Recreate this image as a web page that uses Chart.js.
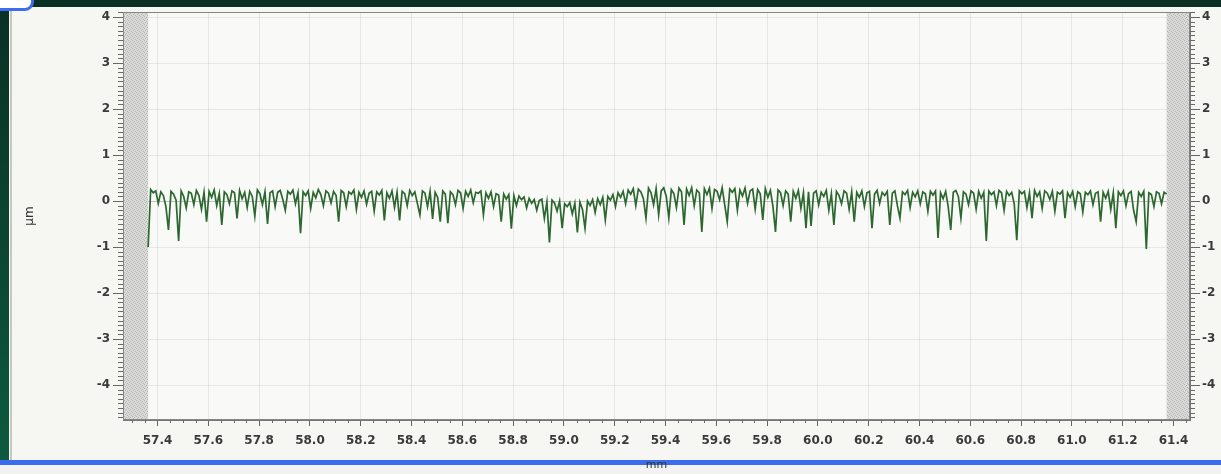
<!DOCTYPE html>
<html>
<head>
<meta charset="utf-8">
<title>Profile</title>
<script src="https://cdn.jsdelivr.net/npm/chart.js@4.4.0/dist/chart.umd.min.js"></script>
<style>
  html, body { margin: 0; padding: 0; }
  body { width: 1221px; height: 474px; overflow: hidden; position: relative; background: #f6f6f3; }
  #frameTop { position: absolute; left: 0; top: 0; width: 1221px; height: 7px; background: #0a2f24; }
  #frameLeft { position: absolute; left: 0; top: 0; width: 9px; height: 462px; background: linear-gradient(#0a2f24, #0d5a3f); }
  #edge { position: absolute; left: 10px; top: 7px; width: 2px; height: 455px; background: #c6c6c2; }
  #corner { position: absolute; left: -24px; top: -20px; width: 52px; height: 25px; border: 3px solid #3b6df0; border-radius: 9px; background: #fff; }
  #blueLine { position: absolute; left: 0; top: 460px; width: 1221px; height: 5px; background: #3a6cf0; }
  #bottomStrip { position: absolute; left: 0; top: 465px; width: 1221px; height: 9px; background: #f2f2f2; }
  #wrap { position: absolute; left: 0; top: 0; width: 1221px; height: 474px; z-index: 2; }
</style>
</head>
<body>
<div id="frameTop"></div>
<div id="frameLeft"></div>
<div id="edge"></div>
<div id="corner"></div>
<div id="blueLine"></div>
<div id="bottomStrip"></div>
<div id="wrap"><canvas id="profileChart" width="1221" height="474"></canvas></div>

<script>
// ===== DATA =====
// measured profile height (µm), one sample every 0.01 mm starting at xStart
const xStart = 57.363;
const xStep = 0.01;
const profile = [
  -1.00, 0.25, 0.18, 0.22, -0.05, 0.20, 0.12, -0.12, -0.63, 0.21,
  0.15, 0.02, -0.87, 0.22, 0.10, -0.15, 0.20, 0.17, -0.08, 0.23,
  0.12, -0.18, 0.19, -0.45, 0.21, 0.08, 0.24, -0.10, 0.16, -0.52,
  0.20, 0.14, -0.06, 0.22, 0.18, -0.38, 0.23, 0.05, 0.19, -0.14,
  0.21, 0.10, -0.33, 0.24, 0.16, -0.08, 0.20, -0.50, 0.18, 0.22,
  -0.12, 0.19, 0.23, 0.04, -0.20, 0.21, 0.15, 0.24, -0.06, 0.18,
  -0.70, 0.20, 0.12, 0.22, -0.16, 0.19, 0.07, 0.25, 0.14, -0.10,
  0.22, 0.17, -0.04, 0.21, 0.12, -0.45, 0.23, 0.18, -0.12, 0.20,
  0.15, 0.24, -0.18, 0.19, 0.08, 0.22, -0.07, 0.17, 0.21, -0.22,
  0.20, 0.13, 0.23, -0.42, 0.18, 0.06, 0.22, -0.14, 0.19, -0.42,
  0.21, 0.16, -0.10, 0.23, 0.12, 0.20, -0.05, -0.30, 0.22, 0.17,
  -0.12, 0.21, -0.39, 0.19, 0.08, -0.45, 0.22, 0.15, -0.48, 0.20,
  0.14, -0.08, 0.23, 0.18, -0.16, 0.21, 0.10, 0.24, -0.04, 0.19,
  0.17, 0.22, -0.30, 0.18, 0.06, 0.20, -0.12, 0.16, 0.13, -0.45,
  0.15, 0.04, 0.14, -0.60, 0.12, -0.10, 0.11, 0.03, 0.09, -0.15,
  0.06, -0.05, 0.03, -0.20, 0.01, 0.04, -0.38, -0.02, -0.90, 0.02,
  -0.04, -0.22, 0.00, -0.59, -0.06, -0.12, -0.03, -0.28, -0.05, -0.68,
  -0.02, -0.18, -0.59, 0.00, -0.10, 0.03, -0.25, 0.05, -0.08, 0.08,
  -0.41, 0.10, 0.02, 0.14, -0.12, 0.18, 0.08, 0.21, -0.06, 0.24,
  0.15, 0.27, -0.10, 0.26, 0.20, 0.05, -0.37, 0.28, 0.18, -0.08,
  0.27, -0.30, 0.22, 0.29, 0.10, -0.37, 0.25, 0.16, -0.14, 0.28,
  0.20, -0.52, 0.26, 0.12, 0.29, -0.10, 0.24, 0.18, -0.67, 0.27,
  0.14, 0.28, -0.16, 0.25, 0.21, 0.03, 0.29, -0.08, -0.45, 0.26,
  0.19, 0.27, -0.20, 0.24, 0.11, 0.28, -0.05, 0.22, 0.26, -0.18,
  0.25, 0.16, -0.41, 0.27, 0.08, 0.23, -0.12, -0.67, 0.24, 0.18,
  -0.10, 0.22, 0.15, -0.45, 0.21, 0.06, 0.23, -0.16, 0.18, -0.59,
  0.20, -0.54, 0.17, 0.22, -0.08, 0.19, 0.10, 0.23, -0.20, 0.16,
  -0.52, 0.21, 0.12, -0.06, 0.22, 0.17, -0.18, 0.20, -0.45, 0.19,
  0.08, 0.22, -0.12, 0.18, 0.21, -0.59, 0.15, 0.23, -0.05, 0.19,
  0.12, 0.21, -0.52, 0.17, 0.22, -0.10, -0.37, 0.20, 0.14, 0.23,
  -0.14, 0.19, 0.09, 0.22, -0.06, 0.20, 0.16, -0.22, 0.21, 0.13,
  0.22, -0.80, 0.18, 0.05, 0.21, -0.12, -0.63, 0.19, 0.23, 0.10,
  -0.37, 0.20, 0.15, -0.08, 0.22, 0.17, -0.18, 0.21, 0.06, 0.19,
  -0.87, 0.22, 0.14, 0.20, -0.10, 0.23, 0.18, -0.20, 0.21, 0.12,
  0.19, -0.06, -0.85, 0.22, 0.16, 0.21, -0.14, 0.18, -0.37, 0.23,
  0.10, 0.20, -0.16, 0.22, 0.17, 0.04, 0.21, -0.22, 0.19, 0.15,
  0.22, -0.37, 0.18, 0.08, 0.21, -0.12, 0.20, 0.16, -0.24, 0.19,
  0.14, 0.22, -0.08, 0.17, 0.20, -0.45, 0.19, 0.06, 0.21, -0.18,
  0.18, -0.59, 0.20, 0.12, 0.22, -0.10, 0.16, 0.21, -0.20, -0.45,
  0.19, 0.10, 0.21, -1.04, 0.18, 0.14, -0.12, 0.20, 0.17, -0.06,
  0.19, 0.15
];
const xTicks = [57.4, 57.6, 57.8, 58.0, 58.2, 58.4, 58.6, 58.8, 59.0, 59.2, 59.4,
                59.6, 59.8, 60.0, 60.2, 60.4, 60.6, 60.8, 61.0, 61.2, 61.4];
const yTicks = [-4, -3, -2, -1, 0, 1, 2, 3, 4];
const xRange = [57.264, 61.465];
const yRange = [-4.76, 4.11];

const points = profile.map((v, i) => ({ x: xStart + i * xStep, y: v }));
const dataEnd = xStart + (profile.length - 1) * xStep;

// ===== HATCH PATTERN FOR EXCLUDED ZONES =====
function makeHatch(ctx) {
  const pc = document.createElement("canvas");
  pc.width = 4; pc.height = 4;
  const p = pc.getContext("2d");
  p.fillStyle = "#dadad8";
  p.fillRect(0, 0, 4, 4);
  p.fillStyle = "#b4b4b2";
  p.fillRect(0, 0, 1, 1); p.fillRect(2, 1, 1, 1);
  p.fillRect(1, 2, 1, 1); p.fillRect(3, 3, 1, 1);
  return ctx.createPattern(pc, "repeat");
}

// ===== PLUGIN: plot background, excluded zones, minor ticks, frame =====
const profileDecor = {
  id: "profileDecor",
  beforeDraw(chart) {
    const { ctx, chartArea: a } = chart;
    ctx.save();
    ctx.fillStyle = "#f9f9f7";
    ctx.fillRect(a.left, a.top, a.right - a.left, a.bottom - a.top);
    ctx.restore();
  },
  beforeDatasetsDraw(chart) {
    const { ctx, chartArea: a, scales: { x } } = chart;
    ctx.save();
    ctx.fillStyle = makeHatch(ctx);
    const l = x.getPixelForValue(xStart);
    const r = x.getPixelForValue(dataEnd);
    ctx.fillRect(a.left, a.top, l - a.left, a.bottom - a.top);
    ctx.fillRect(r, a.top, a.right - r, a.bottom - a.top);
    ctx.restore();
  },
  afterDraw(chart) {
    const { ctx, chartArea: a, scales: { x, y } } = chart;
    ctx.save();
    ctx.strokeStyle = "#6a6a6a";
    ctx.lineWidth = 1;
    ctx.beginPath();
    // minor y ticks every 0.1 on both sides
    for (let k = Math.ceil(yRange[0] * 10); k <= Math.floor(yRange[1] * 10); k++) {
      if (k % 10 === 0) continue;
      const py = Math.round(y.getPixelForValue(k / 10)) + 0.5;
      ctx.moveTo(a.left - 5, py); ctx.lineTo(a.left, py);
      ctx.moveTo(a.right, py); ctx.lineTo(a.right + 5, py);
    }
    // minor x ticks every 0.05
    for (let k = Math.ceil(xRange[0] * 20); k <= Math.floor(xRange[1] * 20); k++) {
      if (k % 4 === 0) continue;
      const px = Math.round(x.getPixelForValue(k / 20)) + 0.5;
      ctx.moveTo(px, a.bottom); ctx.lineTo(px, a.bottom + 3);
    }
    ctx.stroke();
    ctx.strokeStyle = "#858583";
    ctx.strokeRect(a.left + 0.5, a.top + 0.5, a.right - a.left - 1, a.bottom - a.top - 1);
    ctx.restore();
  }
};

// ===== CHART =====
const ctx = document.getElementById("profileChart").getContext("2d");
const tickFont = { family: "DejaVu Sans", size: 12, weight: "bold" };

new Chart(ctx, {
  type: "line",
  data: {
    datasets: [{
      data: points,
      borderColor: "#2b672f",
      borderWidth: 1.7,
      pointRadius: 0,
      tension: 0,
      fill: false,
    }],
  },
  options: {
    responsive: false,
    animation: false,
    events: [],
    layout: { padding: { top: 12, left: 0, right: 0, bottom: 0 } },
    plugins: { legend: { display: false }, tooltip: { enabled: false } },
    scales: {
      x: {
        type: "linear",
        position: "bottom",
        min: xRange[0],
        max: xRange[1],
        afterBuildTicks: s => { s.ticks = xTicks.map(v => ({ value: v })); },
        afterFit: s => { s.height = 54; },
        ticks: {
          callback: v => v.toFixed(1),
          font: tickFont,
          color: "#3a3a3a",
          padding: 8,
          maxRotation: 0,
          autoSkip: false,
        },
        grid: { color: "rgba(0,0,0,0.07)", tickColor: "#666", tickLength: 6 },
        border: { color: "#777" },
        title: { display: true, text: "mm", font: { family: "DejaVu Sans", size: 11 }, color: "#333", padding: { top: 0, bottom: 2 } },
      },
      y: {
        type: "linear",
        position: "left",
        min: yRange[0],
        max: yRange[1],
        afterBuildTicks: s => { s.ticks = yTicks.map(v => ({ value: v })); },
        afterFit: s => { s.width = 123; },
        ticks: { font: tickFont, color: "#3a3a3a", padding: 3 },
        grid: {
          color: c => (c.tick && c.tick.value === 0 ? "rgba(60,60,60,0.3)" : "rgba(0,0,0,0.07)"),
          tickColor: "#666",
          tickLength: 10,
        },
        border: { color: "#777" },
        title: { display: true, text: "μm", font: { family: "DejaVu Sans", size: 12 }, color: "#333", padding: { top: 23, bottom: 0 } },
      },
      y2: {
        type: "linear",
        position: "right",
        min: yRange[0],
        max: yRange[1],
        afterBuildTicks: s => { s.ticks = yTicks.map(v => ({ value: v })); },
        afterFit: s => { s.width = 31; },
        ticks: { font: tickFont, color: "#3a3a3a", padding: 2 },
        grid: { drawOnChartArea: false, tickColor: "#666", tickLength: 10 },
        border: { color: "#777" },
      },
    },
  },
  plugins: [profileDecor],
});
</script>
</body>
</html>
